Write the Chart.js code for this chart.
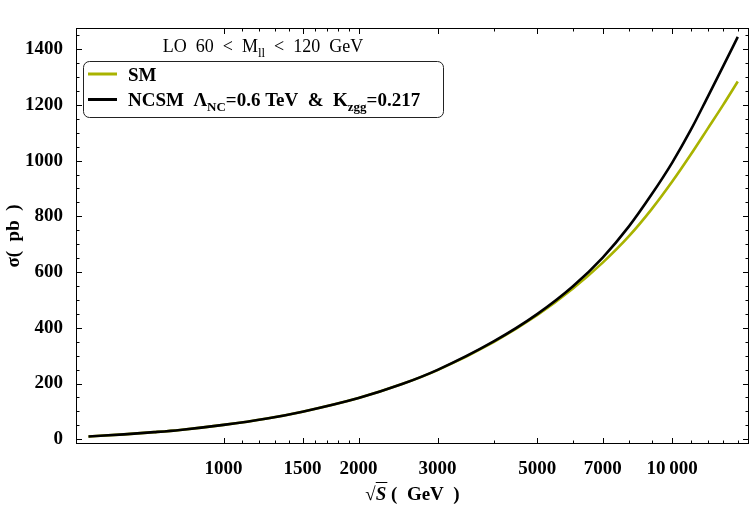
<!DOCTYPE html>
<html>
<head>
<meta charset="utf-8">
<script src="https://cdn.jsdelivr.net/npm/chart.js@4.4.1/dist/chart.umd.min.js"></script>
<style>
  html, body { margin: 0; padding: 0; background: #fff; }
  #wrap { width: 750px; height: 509px; }
</style>
</head>
<body>
<div id="wrap"><canvas id="xsecChart" width="750" height="509"></canvas></div>
<script>
// Cross section vs sqrt(s)
const energies = [500, 600, 700, 800, 1000, 1250, 1500, 2000, 2500, 3000, 4000, 5000, 6000, 7000, 8000, 9000, 10000, 11000, 12000, 13000, 14000];
const smValues = [10, 17.5, 25.5, 33.5, 51.5, 74.5, 99, 148, 198, 248, 349, 445, 540, 634, 728, 826, 925, 1022, 1115, 1201, 1284];
const ncValues = [10, 17.5, 25.5, 33.5, 51.5, 74.5, 99, 148, 198, 249, 351, 449, 548, 652, 763, 879, 993, 1110, 1229, 1340, 1444];

const xLabelTicks = [1000, 1500, 2000, 3000, 5000, 7000, 10000];
const xMinorTicks = [1100, 1200, 1300, 1400, 1600, 1700, 1800, 1900, 4000, 6000, 8000, 9000, 11000, 12000, 13000, 14000];
const xTickText = { 1000: '1000', 1500: '1500', 2000: '2000', 3000: '3000', 5000: '5000', 7000: '7000', 10000: '10\u2009000' };
const yLabelTicks = [0, 200, 400, 600, 800, 1000, 1200, 1400];

const SERIF = "'Liberation Serif', 'DejaVu Serif', serif";
const SM_COLOR = '#a9b300';

function toPoints(vals) {
    return energies.map((e, i) => ({ x: e, y: vals[i] }));
}

// draw a string made of pieces, some as subscripts / italic
function drawRich(ctx, parts, x, y, size, weight) {
    let cx = x;
    parts.forEach(p => {
        const fs = p.sub ? Math.round(size * 0.7) : size;
        ctx.font = `${p.it ? 'italic ' : ''}${weight} ${fs}px ${SERIF}`;
        ctx.fillText(p.t, cx, p.sub ? y + size * 0.28 : y);
        p.x0 = cx;
        cx += ctx.measureText(p.t).width;
        p.x1 = cx;
    });
    return cx;
}
function richWidth(ctx, parts, size, weight) {
    let w = 0;
    parts.forEach(p => {
        const fs = p.sub ? Math.round(size * 0.7) : size;
        ctx.font = `${p.it ? 'italic ' : ''}${weight} ${fs}px ${SERIF}`;
        w += ctx.measureText(p.t).width;
    });
    return w;
}

// frame on all four sides with inward ticks (Mathematica style)
const frameTicks = {
    id: 'frameTicks',
    afterDatasetsDraw(chart) {
        const { ctx, chartArea: a, scales: { x, y } } = chart;
        ctx.save();
        ctx.strokeStyle = '#000';
        ctx.lineWidth = 1;
        ctx.strokeRect(a.left + 0.5, a.top + 0.5, a.right - a.left - 1, a.bottom - a.top - 1);
        ctx.beginPath();
        xLabelTicks.concat(xMinorTicks).forEach(v => {
            const px = Math.round(x.getPixelForValue(v)) + 0.5;
            const len = xLabelTicks.includes(v) ? 6 : 3.5;
            ctx.moveTo(px, a.bottom); ctx.lineTo(px, a.bottom - len);
            ctx.moveTo(px, a.top); ctx.lineTo(px, a.top + len);
        });
        for (let v = 0; v <= 1450; v += 50) {
            const py = Math.round(y.getPixelForValue(v)) + 0.5;
            const len = v % 200 === 0 ? 6 : 3.5;
            ctx.moveTo(a.left, py); ctx.lineTo(a.left + len, py);
            ctx.moveTo(a.right, py); ctx.lineTo(a.right - len, py);
        }
        ctx.stroke();

        // x axis title: sqrt(S) ( GeV )
        ctx.fillStyle = '#000';
        const xt = [{ t: '\u221A' }, { t: 'S', it: true }, { t: ' (  GeV  )' }];
        const w = richWidth(ctx, xt, 19, 'bold');
        drawRich(ctx, xt, (a.left + a.right) / 2 - w / 2, 500, 19, 'bold');
        ctx.beginPath();
        ctx.moveTo(xt[1].x0, 482.5); ctx.lineTo(xt[1].x1 + 1, 482.5);
        ctx.stroke();
        ctx.restore();
    }
};

// legend box with subscripts, plus the LO label above it
const richLegend = {
    id: 'richLegend',
    afterDraw(chart) {
        const ctx = chart.ctx;
        const ds = chart.data.datasets;
        const box = { x: 83, y: 61, w: 360, h: 56 };
        ctx.save();
        ctx.fillStyle = '#000';
        ctx.textBaseline = 'alphabetic';
        const titleParts = [{ t: 'LO  60  <  M' }, { t: 'll', sub: true }, { t: '  <  120  GeV' }];
        const tw = richWidth(ctx, titleParts, 18, 'normal');
        drawRich(ctx, titleParts, box.x + box.w / 2 - tw / 2, 52, 18, 'normal');

        ctx.beginPath();
        ctx.roundRect(box.x + 0.5, box.y + 0.5, box.w, box.h, 6);
        ctx.fillStyle = '#fff';
        ctx.fill();
        ctx.strokeStyle = '#222';
        ctx.lineWidth = 1;
        ctx.stroke();

        const rows = [
            { ds: ds[0], y: 74, parts: [{ t: 'SM' }] },
            { ds: ds[1], y: 99.5, parts: [{ t: 'NCSM  \u039B' }, { t: 'NC', sub: true }, { t: '=0.6 TeV  &  K' }, { t: 'zgg', sub: true }, { t: '=0.217' }] }
        ];
        rows.forEach(r => {
            ctx.strokeStyle = r.ds.borderColor;
            ctx.lineWidth = 3;
            ctx.beginPath();
            ctx.moveTo(88, r.y); ctx.lineTo(117, r.y);
            ctx.stroke();
            ctx.fillStyle = '#000';
            drawRich(ctx, r.parts, 128, r.y + 6.5, 19, 'bold');
        });
        ctx.restore();
    }
};

new Chart(document.getElementById('xsecChart'), {
    type: 'line',
    data: {
        datasets: [{
            label: 'SM',
            data: toPoints(smValues),
            borderColor: SM_COLOR,
            borderWidth: 2.6,
            pointRadius: 0,
            cubicInterpolationMode: 'monotone',
            order: 2
        }, {
            label: 'NCSM',
            data: toPoints(ncValues),
            borderColor: '#000000',
            borderWidth: 2.6,
            pointRadius: 0,
            cubicInterpolationMode: 'monotone',
            order: 1
        }]
    },
    options: {
        responsive: false,
        animation: false,
        devicePixelRatio: 1,
        layout: { padding: { top: 28, right: 1, left: 0, bottom: 0 } },
        plugins: {
            legend: { display: false },
            tooltip: { enabled: false }
        },
        scales: {
            x: {
                type: 'logarithmic',
                min: 469,
                max: 14830,
                afterBuildTicks: s => { s.ticks = xLabelTicks.map(v => ({ value: v })); },
                afterFit: s => { s.height = 65; },
                grid: { display: false },
                border: { display: false },
                ticks: {
                    autoSkip: false,
                    maxRotation: 0,
                    padding: 6,
                    color: '#000',
                    font: { family: SERIF, size: 19, weight: 'bold' },
                    callback: v => xTickText[v] || ''
                }
            },
            y: {
                min: -17,
                max: 1476,
                afterBuildTicks: s => { s.ticks = yLabelTicks.map(v => ({ value: v })); },
                afterFit: s => { s.width = 76; },
                grid: { display: false },
                border: { display: false },
                ticks: {
                    padding: 5,
                    color: '#000',
                    font: { family: SERIF, size: 19, weight: 'bold' },
                    callback: v => String(v)
                },
                title: {
                    display: true,
                    text: '\u03C3(  pb  )',
                    color: '#000',
                    font: { family: SERIF, size: 19, weight: 'bold' },
                    padding: { top: 3, bottom: 0 }
                }
            }
        }
    },
    plugins: [frameTicks, richLegend]
});
</script>
</body>
</html>
